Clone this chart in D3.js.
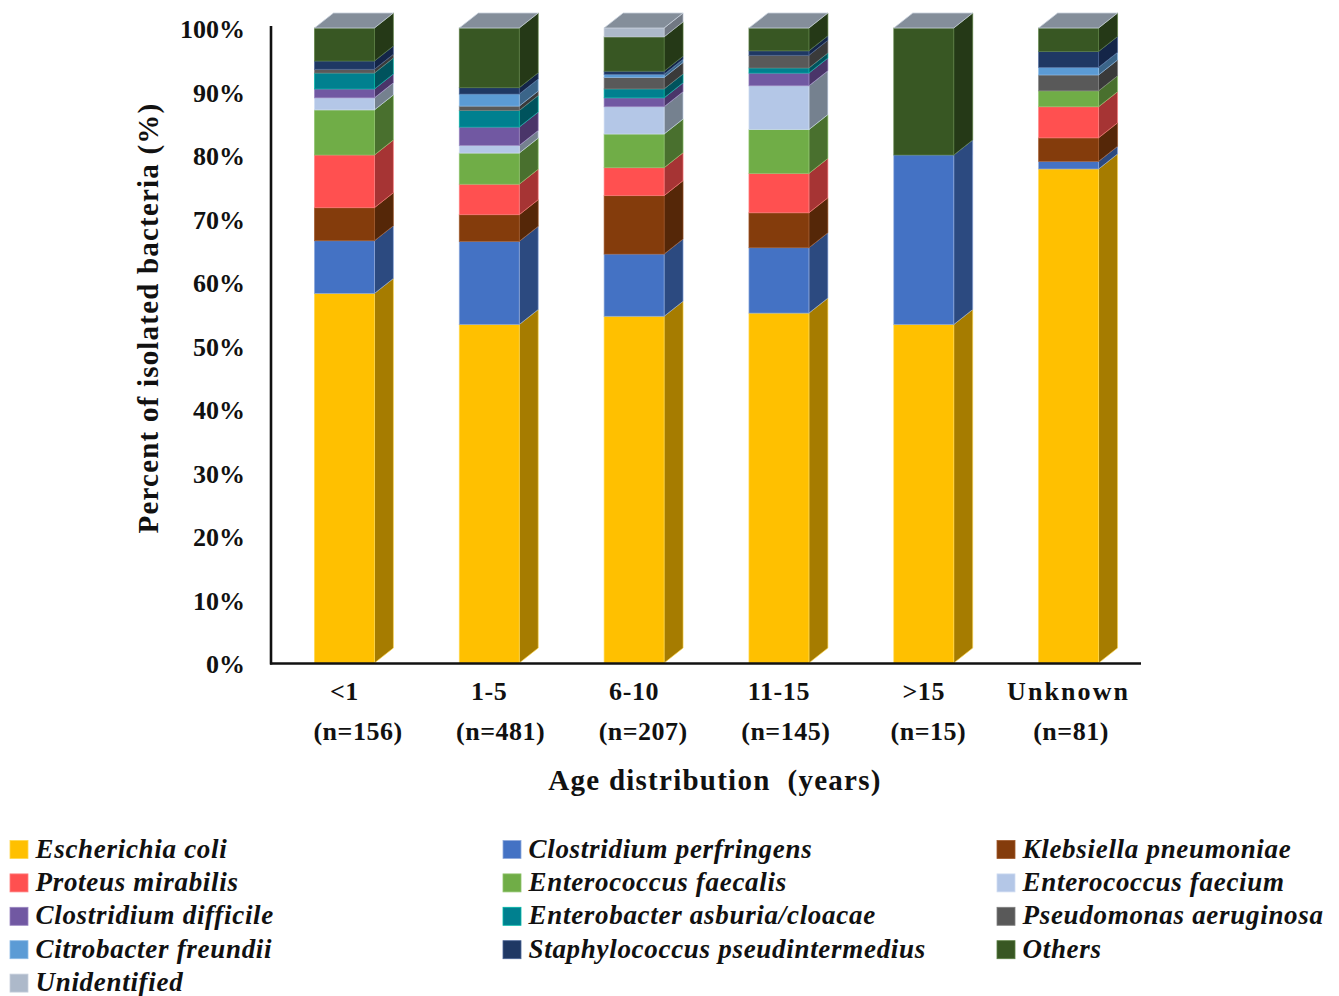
<!DOCTYPE html>
<html><head><meta charset="utf-8">
<script src="https://cdnjs.cloudflare.com/ajax/libs/d3/7.8.5/d3.min.js"></script>
<style>
html,body{margin:0;padding:0;background:#fff}
svg{display:block}
text{font-family:"Liberation Serif",serif;fill:#111}
.tick line,.domain{display:none}
</style></head><body>
<svg id="c" width="1339" height="996"></svg>
<script>
const ageLabels=["<1","1-5","6-10","11-15",">15","Unknown"];
const countLabels=["(n=156)","(n=481)","(n=207)","(n=145)","(n=15)","(n=81)"];
const speciesNames=["Escherichia coli","Clostridium perfringens","Klebsiella pneumoniae","Proteus mirabilis","Enterococcus faecalis","Enterococcus faecium","Clostridium difficile","Enterobacter asburia/cloacae","Pseudomonas aeruginosa","Citrobacter freundii","Staphylococcus pseudintermedius","Others","Unidentified"];
const speciesColors=["#FFC000","#4472C4","#843C0C","#FF5050","#70AD47","#B4C7E7","#7158A2","#00808F","#595959","#5B9BD5","#1F3864","#385723","#ADB9CA"];
const edgeColors=["#FFD84D","#8FAADC","#A0582A","#FF7F7F","#8FC46C","#D0DDF2","#9A86C0","#00B8A8","#808080","#8DBBE6","#4A6496","#5B7F42","#C8D0DC"];
const sideColors=["#A67C00","#2C4A80","#552708","#A63434","#49702E","#75818F","#4A3569","#00535D","#3A3A3A","#3B6589","#142548","#253917","#717883"];
const ageValues=[
 [58.2,8.3,5.2,8.3,7.1,1.9,1.4,2.5,0.6,0,1.3,5.2,0],
 [53.3,13.1,4.2,4.8,4.9,1.2,2.9,2.6,0.7,1.9,1.0,9.4,0],
 [54.6,9.8,9.2,4.4,5.3,4.3,1.4,1.4,1.8,0.5,0.5,5.4,1.4],
 [55.1,10.3,5.5,6.2,6.9,6.9,2.0,0.8,2.0,0,0.7,3.6,0],
 [53.3,26.7,0,0,0,0,0,0,0,0,0,20.0,0],
 [77.8,1.2,3.7,4.9,2.5,0,0,0,2.5,1.2,2.5,3.7,0]
];
const yTicks=[0,10,20,30,40,50,60,70,80,90,100];

const svg=d3.select("#c");
const x=d3.scaleBand().domain(ageLabels).range([272,1141]).paddingInner(0.586).paddingOuter(0.293);
const x2=d3.scalePoint().domain(countLabels).range([357.5,1070.5]);
const y=d3.scaleLinear().domain([0,100]).range([663,28]);
const dx=19,dy=-15;

const g=svg.append("g");
ageLabels.forEach((age,i)=>{
  const bar=g.append("g");
  const x0=x(age),x1=x0+x.bandwidth();
  let cum=0;
  const segs=[];
  ageValues[i].forEach((v,s)=>{ if(v>0) segs.push({s,a:cum,b:cum+v}); cum+=v; });
  segs.forEach(d=>{
    const ya=y(d.a),yb=y(d.b);
    bar.append("polygon").attr("points",[[x1,ya],[x1+dx,ya+dy],[x1+dx,yb+dy],[x1,yb]].join(" "))
      .attr("fill",sideColors[d.s]).attr("stroke",edgeColors[d.s]).attr("stroke-width",0.8).attr("stroke-opacity",0.8);
    bar.append("rect").attr("x",x0).attr("y",yb).attr("width",x.bandwidth()).attr("height",ya-yb)
      .attr("fill",speciesColors[d.s]).attr("stroke",edgeColors[d.s]).attr("stroke-width",0.8).attr("stroke-opacity",0.8);
  });
  const yt=y(100);
  bar.append("polygon").attr("points",[[x0,yt],[x0-dy*1.27,yt+dy],[x1+dx,yt+dy],[x1,yt]].join(" "))
    .attr("fill","#848E9A").attr("stroke","#C8D0DC").attr("stroke-width",0.8);
});

// axes
const yAxis=svg.append("g").attr("transform","translate(271,-1)").call(d3.axisLeft(y).tickValues(yTicks).tickFormat(d=>d+"%").tickSize(0).tickPadding(26));
yAxis.selectAll("text").attr("font-size",26).attr("font-weight",700).attr("dy","0.42em");
const xAxis=svg.append("g").attr("transform","translate(0,664)").call(d3.axisBottom(x).tickSize(0).tickPadding(18));
xAxis.selectAll("text").attr("font-size",26).attr("font-weight",700).attr("letter-spacing",d=>d==="Unknown"?2.1:0.6);
const xAxis2=svg.append("g").attr("transform","translate(0,664)").call(d3.axisBottom(x2).tickSize(0).tickPadding(58));
xAxis2.selectAll("text").attr("font-size",26).attr("font-weight",700).attr("letter-spacing",0.5);
svg.append("line").attr("x1",271).attr("x2",271).attr("y1",26).attr("y2",664.5).attr("stroke","#111").attr("stroke-width",2.6);
svg.append("line").attr("x1",270).attr("x2",1141).attr("y1",663.5).attr("y2",663.5).attr("stroke","#111").attr("stroke-width",2.6);

svg.append("text").attr("transform","translate(158,318) rotate(-90)").attr("text-anchor","middle")
  .attr("font-size",29).attr("font-weight",700).attr("letter-spacing",1.2).text("Percent of isolated bacteria (%)");
svg.append("text").attr("x",715).attr("y",790).attr("text-anchor","middle")
  .attr("font-size",29).attr("font-weight",700).attr("letter-spacing",1.25).attr("xml:space","preserve").text("Age distribution  (years)");

// legend
const colX=[10,503,997];
speciesNames.forEach((n,i)=>{
  const col=i%3,row=Math.floor(i/3);
  const cy=849.5+row*33.4;
  svg.append("rect").attr("x",colX[col]).attr("y",cy-9).attr("width",18).attr("height",18).attr("fill",speciesColors[i]).attr("stroke",edgeColors[i]).attr("stroke-width",0.8);
  svg.append("text").attr("x",colX[col]+25.5).attr("y",cy+8).attr("font-size",27).attr("font-style","italic").attr("font-weight",700).attr("letter-spacing",0.7).text(n);
});
</script></body></html>
